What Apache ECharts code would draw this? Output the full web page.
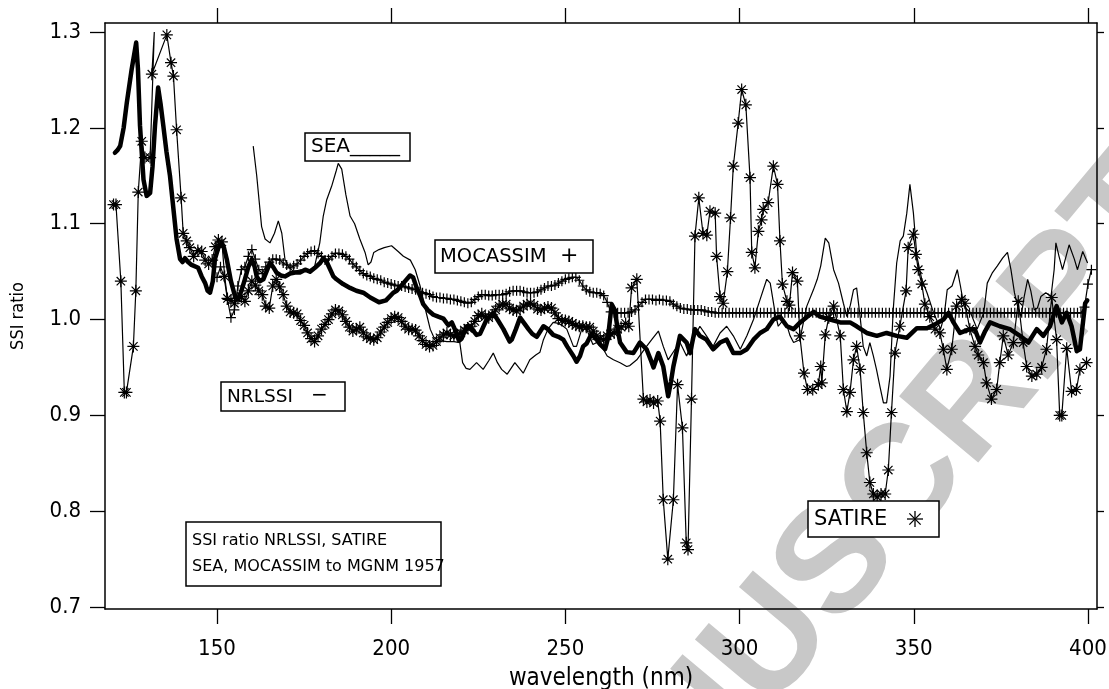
<!DOCTYPE html>
<html>
<head>
<meta charset="utf-8">
<script src="https://cdn.jsdelivr.net/npm/echarts@6/dist/echarts.min.js"></script>
<style>
  html, body { margin: 0; padding: 0; background: #fff; }
  #chart { width: 1109px; height: 689px; }
</style>
</head>
<body>
<div id="chart"></div>
<script>
// Axis ticks
const xTicks = [150, 200, 250, 300, 350, 400];
const yTicks = [0.7, 0.8, 0.9, 1.0, 1.1, 1.2, 1.3];

// NRLSSI ratio, [wavelength nm, ratio]
const nrlssi = [
  [120.7,1.174],[121.5,1.177],[122.2,1.181],[123.2,1.200],[124.1,1.226],[125.5,1.261],[126.8,1.289],[127.3,1.262],
  [127.9,1.202],[128.9,1.146],[129.8,1.129],[130.8,1.132],[131.5,1.160],[132.2,1.202],[133.1,1.242],[133.8,1.225],
  [134.6,1.202],[135.5,1.175],[136.5,1.150],[137.5,1.115],[138.4,1.084],[139.4,1.063],[140.1,1.060],[140.8,1.064],
  [141.7,1.060],[142.7,1.057],[144.6,1.054],[145.6,1.045],[146.6,1.038],[147.3,1.030],[148.0,1.028],[148.8,1.040],
  [149.4,1.063],[150.4,1.075],[151.3,1.080],[152.0,1.075],[152.8,1.063],[154.0,1.040],[155.2,1.024],[156.1,1.021],
  [157.0,1.030],[158.0,1.042],[159.0,1.055],[160.0,1.063],[160.8,1.055],[161.4,1.045],[162.3,1.040],[163.3,1.042],
  [164.2,1.050],[165.2,1.059],[166.1,1.055],[167.1,1.049],[168.3,1.046],[169.5,1.045],[171.0,1.048],[172.4,1.049],
  [173.8,1.049],[175.3,1.052],[176.7,1.050],[178.1,1.054],[179.6,1.059],[180.5,1.064],[181.5,1.060],[183.4,1.045],
  [184.3,1.042],[186.2,1.037],[188.2,1.033],[190.0,1.030],[192.0,1.028],[194.0,1.023],[196.5,1.018],[198.5,1.020],
  [200.6,1.028],[201.6,1.030],[203.5,1.038],[205.4,1.046],[206.3,1.044],[207.3,1.033],[208.3,1.025],[209.2,1.016],
  [210.5,1.010],[212.1,1.005],[213.5,1.003],[215.0,1.001],[216.4,0.994],[217.4,0.997],[218.5,0.988],[219.5,0.978],
  [220.2,0.980],[221.7,0.993],[222.6,0.993],[224.5,0.984],[225.5,0.985],[227.4,1.000],[229.3,1.007],[230.5,1.000],
  [232.2,0.990],[234.0,0.977],[234.6,0.979],[235.8,0.990],[237.0,1.002],[238.2,0.996],[239.4,0.990],[240.5,0.985],
  [241.8,0.982],[243.7,0.993],[245.0,0.990],[246.5,0.984],[248.0,0.982],[249.4,0.979],[250.5,0.972],[252.3,0.962],
  [253.2,0.956],[254.2,0.962],[255.1,0.972],[256.1,0.975],[257.5,0.985],[259.0,0.979],[260.0,0.974],[261.4,0.969],
  [262.2,0.980],[263.3,1.016],[264.2,1.010],[265.0,0.990],[265.7,0.976],[267.6,0.966],[269.5,0.965],[271.4,0.976],
  [273.3,0.969],[274.5,0.958],[275.3,0.950],[276.7,0.965],[278.1,0.951],[279.5,0.920],[280.3,0.935],[281.0,0.951],
  [282.9,0.983],[284.8,0.976],[285.8,0.965],[287.2,0.990],[288.6,0.983],[290.5,0.979],[292.4,0.969],[294.4,0.976],
  [296.3,0.979],[298.2,0.965],[300.2,0.965],[302.1,0.969],[304.0,0.979],[305.9,0.986],[307.8,0.990],[309.7,1.000],
  [311.6,1.003],[313.6,0.993],[315.5,0.990],[317.4,0.997],[319.4,1.003],[321.3,1.008],[323.1,1.003],[326.0,1.000],
  [328.9,0.997],[331.7,0.997],[333.6,0.993],[336.5,0.986],[339.4,0.983],[342.2,0.986],[345.1,0.983],[348.0,0.981],
  [350.9,0.991],[353.8,0.991],[356.1,0.995],[358.5,1.000],[360.0,1.007],[361.4,0.997],[363.3,0.986],[366.1,0.990],
  [367.5,0.990],[369.0,0.976],[370.5,0.988],[371.9,0.997],[374.7,0.993],[377.6,0.990],[380.5,0.983],[382.9,0.976],
  [385.3,0.990],[387.2,0.983],[389.1,0.993],[391.0,1.014],[392.5,0.997],[393.9,1.007],[395.3,0.993],[396.8,0.967],
  [397.7,0.969],[399.2,1.017],[399.8,1.020]
];

// SATIRE ratio: short-wavelength part, [wavelength nm, ratio]
const satireHead = [
  [120.3,1.120],[121.0,1.120],[122.4,1.040],[123.4,0.924],[124.0,0.924],[126.0,0.972],[126.7,1.030],[127.4,1.133],
  [128.4,1.186],[129.3,1.169],[130.8,1.169],[132.0,1.300],[131.3,1.256],[135.6,1.297],[136.8,1.268],[137.5,1.254],
  [138.4,1.198],[139.7,1.127],[140.3,1.090],[141.3,1.082],[142.2,1.075],[143.3,1.066],[144.5,1.072],[145.6,1.071],
  [146.6,1.062],[147.6,1.058],[148.6,1.062],[149.5,1.076],[150.4,1.083],[151.4,1.081],[152.2,1.045]
];
// points of the SATIRE trace drawn as line only (no marker)
const satireLineOnly = [132.0];
// SATIRE ratio on a 1 nm grid, 153 to 265 nm
const satireBandStart = 153;
const satireBand = [
  1.022,1.020,1.017,1.022,1.024,1.019,1.030,1.040,1.036,1.030,
  1.026,1.014,1.012,1.035,1.042,1.034,1.026,1.014,1.008,1.007,
  1.006,0.999,0.994,0.986,0.980,0.977,0.983,0.990,0.995,1.000,
  1.006,1.010,1.009,1.005,0.998,0.992,0.988,0.990,0.992,0.986,
  0.982,0.980,0.979,0.981,0.987,0.992,0.997,1.001,1.003,1.002,
  0.998,0.993,0.990,0.990,0.989,0.983,0.978,0.974,0.972,0.973,
  0.977,0.981,0.984,0.986,0.984,0.983,0.984,0.986,0.989,0.991,
  0.993,0.998,1.004,1.006,1.003,1.002,1.005,1.010,1.014,1.016,
  1.016,1.012,1.010,1.009,1.011,1.014,1.016,1.017,1.015,1.011,
  1.010,1.012,1.013,1.012,1.007,1.001,0.999,0.999,0.998,0.996,
  0.994,0.993,0.993,0.992,0.992,0.988,0.983,0.980,0.979,0.983,
  0.985,0.986,0.990
];
// SATIRE ratio: long-wavelength part
const satireTailWl = [
  266.0,267.3,268.2,269.0,270.5,272.4,273.4,274.3,275.3,276.5,277.2,278.1,279.4,281.0,282.2,283.6,284.7,285.2,286.2,287.2,
  288.3,289.5,290.6,291.5,293.0,293.4,294.4,295.3,296.5,297.4,298.2,299.6,300.6,301.8,303.0,303.5,304.4,305.4,306.3,306.8,
  308.2,309.7,310.9,311.6,312.3,313.6,314.3,315.2,316.6,317.3,318.5,319.5,321.0,322.6,323.3,323.6,324.6,325.6,327.0,328.9,
  329.8,330.8,331.7,332.7,333.6,334.6,335.5,336.5,337.4,338.4,339.5,340.6,341.8,342.7,343.6,344.6,346.0,347.8,348.4,349.9,
  350.6,351.3,352.3,353.2,354.6,356.1,357.5,358.5,359.5,360.9,362.3,363.7,364.7,366.1,367.6,368.5,370.0,370.9,372.3,373.8,
  374.7,375.7,377.1,378.6,380.0,381.4,382.4,383.9,385.3,386.7,388.1,389.6,391.0,391.9,392.5,393.9,395.3,396.7,397.7,399.6
];
const satireTailVal = [
  0.992,0.996,0.993,1.033,1.042,0.917,0.914,0.916,0.913,0.915,0.894,0.812,0.750,0.812,0.932,0.887,0.767,0.760,0.917,1.087,
  1.127,1.090,1.088,1.113,1.111,1.066,1.024,1.017,1.050,1.106,1.160,1.205,1.240,1.224,1.148,1.070,1.054,1.092,1.104,1.115,
  1.122,1.160,1.141,1.082,1.037,1.019,1.015,1.049,1.040,0.983,0.944,0.927,0.927,0.932,0.951,0.934,0.984,1.002,1.014,0.983,
  0.927,0.904,0.924,0.958,0.972,0.948,0.903,0.861,0.830,0.818,0.815,0.818,0.818,0.843,0.903,0.965,0.993,1.030,1.075,1.089,
  1.068,1.052,1.037,1.016,1.003,0.990,0.986,0.969,0.948,0.969,1.014,1.021,1.017,0.990,0.972,0.963,0.955,0.934,0.917,0.927,
  0.955,0.983,0.963,0.976,1.019,0.976,0.951,0.941,0.943,0.950,0.969,1.023,0.979,0.900,0.900,0.970,0.925,0.927,0.948,0.955
];

// SEA ratio, [wavelength nm, ratio]
const sea = [
  [160.4,1.181],[161.4,1.150],[162.8,1.097],[163.8,1.084],[165.2,1.080],[166.5,1.090],[167.6,1.103],[168.6,1.090],
  [169.5,1.063],[170.5,1.055],[172.0,1.050],[174.0,1.052],[176.0,1.050],[178.0,1.055],[179.5,1.080],[180.5,1.108],
  [181.5,1.125],[182.9,1.139],[184.2,1.155],[184.8,1.163],[185.8,1.157],[187.0,1.130],[188.2,1.108],[189.5,1.100],
  [191.0,1.084],[192.5,1.070],[193.4,1.057],[194.2,1.060],[195.0,1.070],[196.5,1.073],[198.0,1.075],[200.1,1.077],
  [202.0,1.071],[203.5,1.066],[205.5,1.062],[206.9,1.052],[208.3,1.035],[209.2,1.020],[210.2,1.005],[211.2,0.990],
  [212.3,0.981],[214.0,0.978],[216.0,0.977],[218.0,0.977],[219.7,0.976],[220.5,0.955],[221.5,0.949],[222.6,0.948],
  [224.5,0.955],[226.4,0.948],[228.0,0.957],[229.3,0.965],[230.5,0.955],[231.7,0.948],[233.3,0.943],[235.5,0.955],
  [237.9,0.944],[239.8,0.958],[241.5,0.963],[242.7,0.966],[243.7,0.979],[245.0,0.990],[246.5,0.997],[248.0,0.996],
  [249.4,0.993],[250.4,0.990],[252.3,0.972],[253.2,0.972],[254.7,0.990],[256.1,0.990],[257.9,0.974],[259.0,0.976],
  [260.9,0.969],[262.0,0.962],[263.8,0.958],[265.7,0.955],[267.6,0.951],[268.5,0.952],[270.5,0.958],[273.3,0.972],
  [275.0,0.980],[276.7,0.988],[278.1,0.972],[279.5,0.958],[281.5,0.969],[282.9,0.976],[284.8,0.962],[286.7,0.979],
  [288.6,0.993],[290.5,0.983],[292.4,0.972],[294.4,0.986],[296.3,0.993],[298.2,0.983],[300.2,0.969],[302.1,0.983],
  [304.0,1.000],[305.9,1.021],[307.8,1.042],[308.8,1.038],[310.2,1.007],[311.1,0.993],[312.6,1.000],[313.5,0.995],
  [314.5,0.983],[315.5,0.976],[317.3,0.979],[319.3,1.014],[321.2,1.031],[322.3,1.042],[323.3,1.056],[324.6,1.085],
  [325.6,1.080],[327.0,1.052],[328.4,1.038],[329.8,1.017],[330.8,1.003],[331.8,1.015],[332.7,1.031],[333.6,1.033],
  [334.6,1.003],[335.5,0.972],[336.5,0.962],[337.4,0.976],[338.4,0.962],[339.3,0.948],[340.3,0.930],[341.3,0.913],
  [342.2,0.913],[343.2,0.941],[344.1,1.010],[345.1,1.059],[346.1,1.082],[347.0,1.087],[348.0,1.111],[348.9,1.141],
  [349.9,1.111],[350.9,1.066],[352.3,1.042],[353.8,1.028],[355.7,1.007],[357.7,0.990],[358.7,1.003],[359.6,1.031],
  [361.0,1.035],[362.5,1.052],[363.4,1.035],[364.4,1.014],[366.3,1.007],[368.2,0.990],[370.1,1.007],[371.1,1.038],
  [372.6,1.049],[374.0,1.056],[375.5,1.064],[376.9,1.070],[377.9,1.052],[378.9,1.028],[379.8,1.014],[380.8,1.003],
  [381.7,1.024],[382.7,1.042],[383.6,1.030],[384.6,1.010],[385.5,1.012],[386.5,1.024],[387.9,1.028],[389.4,1.024],
  [390.3,1.052],[390.8,1.080],[391.7,1.066],[392.7,1.052],[394.6,1.078],[396.1,1.063],[397.0,1.052],[398.5,1.071],
  [399.9,1.059]
];

// MOCASSIM ratio on a 1 nm grid, 150 to 401 nm
const mocassimStart = 150;
const mocassim = [
  1.044,1.055,1.045,1.021,1.002,1.010,1.035,1.052,1.055,1.066,
  1.073,1.063,1.052,1.048,1.055,1.060,1.063,1.063,1.062,1.059,
  1.057,1.054,1.056,1.058,1.062,1.066,1.069,1.071,1.072,1.069,
  1.066,1.062,1.063,1.066,1.069,1.069,1.068,1.066,1.063,1.058,
  1.055,1.051,1.048,1.046,1.045,1.043,1.042,1.041,1.039,1.038,
  1.037,1.036,1.035,1.035,1.034,1.033,1.032,1.031,1.029,1.028,
  1.027,1.026,1.024,1.023,1.023,1.022,1.022,1.021,1.021,1.020,
  1.019,1.018,1.017,1.018,1.021,1.024,1.026,1.026,1.025,1.025,
  1.026,1.026,1.026,1.027,1.029,1.030,1.030,1.030,1.029,1.028,
  1.028,1.028,1.029,1.031,1.033,1.035,1.035,1.036,1.038,1.040,
  1.042,1.043,1.044,1.044,1.041,1.035,1.031,1.029,1.028,1.028,
  1.027,1.025,1.018,1.008,1.007,1.007,1.007,1.007,1.007,1.008,
  1.010,1.014,1.018,1.021,1.021,1.021,1.020,1.021,1.020,1.020,
  1.019,1.016,1.014,1.012,1.011,1.011,1.010,1.010,1.010,1.010,
  1.009,1.008,1.008,1.007,1.007,1.007,1.007,1.007,1.007,1.007,
  1.007,1.007,1.007,1.007,1.007,1.007,1.007,1.007,1.007,1.007,
  1.007,1.007,1.007,1.007,1.007,1.007,1.007,1.007,1.007,1.007,
  1.007,1.007,1.007,1.007,1.007,1.007,1.007,1.007,1.007,1.007,
  1.007,1.007,1.007,1.007,1.007,1.007,1.007,1.007,1.007,1.007,
  1.007,1.007,1.007,1.007,1.007,1.007,1.007,1.007,1.007,1.007,
  1.007,1.007,1.007,1.007,1.007,1.007,1.007,1.007,1.007,1.007,
  1.007,1.007,1.007,1.007,1.007,1.007,1.007,1.007,1.007,1.007,
  1.007,1.007,1.007,1.007,1.007,1.007,1.007,1.007,1.007,1.007,
  1.007,1.007,1.007,1.007,1.007,1.007,1.007,1.007,1.007,1.007,
  1.007,1.007,1.007,1.007,1.007,1.007,1.007,1.007,1.007,1.013,
  1.037,1.052
];

// ---- build series data ----
const satireData = [];
satireHead.forEach(p => {
  const item = { value: p };
  if (satireLineOnly.includes(p[0])) item.symbol = 'none';
  satireData.push(item);
});
satireBand.forEach((v, i) => satireData.push({ value: [satireBandStart + i, v] }));
satireTailWl.forEach((w, i) => satireData.push({ value: [w, satireTailVal[i]] }));

const mocassimData = mocassim.map((v, i) => [mocassimStart + i, v]);

const asteriskSymbol = 'path://M0,5L10,5M5,0L5,10M1.5,1.5L8.5,8.5M8.5,1.5L1.5,8.5';
const plusSymbol = 'path://M0,5L10,5M5,0L5,10';

const axisFont = "'Liberation Sans Narrow', 'DejaVu Sans Condensed', 'Liberation Sans', sans-serif";
const boxFont = "'DejaVu Sans', sans-serif";

const X_MIN = 117.85, X_MAX = 402.6;
const Y_MIN = 0.698, Y_MAX = 1.3094;

const lineAxis = { show: true, onZero: false, lineStyle: { color: '#000', width: 1.5 } };

// boxed labels drawn on the plot
function boxedLabel(x, y, w, h, extra) {
  return [
    { type: 'rect', z: 20, shape: { x: x, y: y, width: w, height: h },
      style: { fill: '#fff', stroke: '#000', lineWidth: 1.5 } }
  ].concat(extra);
}
function label(x, y, text, size) {
  return { type: 'text', z: 21, x: x, y: y,
    style: { text: text, font: size + 'px ' + boxFont, fill: '#000',
             textAlign: 'left', textVerticalAlign: 'middle' } };
}
function asteriskMark(cx, cy, r) {
  const d = r * 0.7071;
  const segs = [[-r,0,r,0],[0,-r,0,r],[-d,-d,d,d],[d,-d,-d,d]];
  return segs.map(s => ({ type: 'line', z: 21,
    shape: { x1: cx + s[0], y1: cy + s[1], x2: cx + s[2], y2: cy + s[3] },
    style: { stroke: '#000', lineWidth: 1.3 } }));
}

const graphics = [].concat(
  // watermark
  [{ type: 'text', z: 1, x: 517, y: 948, rotation: 0.873, silent: true,
     style: { text: 'MANUSCRIPT', font: "bold 150px 'Liberation Sans', sans-serif",
              fill: '#c8c8c8', textAlign: 'left', textVerticalAlign: 'middle' } }],
  boxedLabel(305, 133, 105, 28, [label(311, 147, 'SEA_____', 20)]),
  boxedLabel(435, 240, 158, 33, [label(440, 257, 'MOCASSIM', 19.5), label(560, 256, '+', 22)]),
  boxedLabel(221, 382, 124, 29, [label(227, 397, 'NRLSSI', 18.5), label(311, 396, '\u2212', 20)]),
  boxedLabel(808, 501, 131, 36, [label(814, 520, 'SATIRE', 21)].concat(asteriskMark(915, 519, 8))),
  boxedLabel(186, 522, 255, 64, [label(192, 541, 'SSI ratio NRLSSI, SATIRE', 16),
                                 label(192, 567, 'SEA, MOCASSIM to MGNM 1957', 16)])
);

const chart = echarts.init(document.getElementById('chart'), null, { renderer: 'canvas' });
chart.setOption({
  animation: false,
  backgroundColor: '#fff',
  grid: { left: 105, right: 12, top: 23, bottom: 80, containLabel: false, outerBoundsMode: 'none' },
  xAxis: [
    { type: 'value', min: X_MIN, max: X_MAX, position: 'bottom', z: 3,
      name: 'wavelength (nm)', nameLocation: 'middle', nameGap: 58,
      nameTextStyle: { fontFamily: axisFont, fontSize: 24, color: '#000' },
      axisLine: lineAxis,
      axisTick: { show: true, inside: false, length: 15, customValues: xTicks, lineStyle: { color: '#000', width: 1.3 } },
      axisLabel: { show: true, customValues: xTicks, margin: 29, fontFamily: axisFont, fontSize: 22, color: '#000' },
      splitLine: { show: false } },
    { type: 'value', min: X_MIN, max: X_MAX, position: 'top', z: 3,
      axisLine: lineAxis,
      axisTick: { show: true, inside: false, length: 15, customValues: xTicks, lineStyle: { color: '#000', width: 1.3 } },
      axisLabel: { show: false }, splitLine: { show: false } }
  ],
  yAxis: [
    { type: 'value', min: Y_MIN, max: Y_MAX, position: 'left', z: 3,
      name: 'SSI ratio', nameLocation: 'middle', nameGap: 78, nameRotate: 90,
      nameTextStyle: { fontFamily: axisFont, fontSize: 18, color: '#000' },
      axisLine: lineAxis,
      axisTick: { show: true, inside: false, length: 15, customValues: yTicks, lineStyle: { color: '#000', width: 1.3 } },
      axisLabel: { show: true, customValues: yTicks, margin: 24, fontFamily: axisFont, fontSize: 22, color: '#000',
                   formatter: v => v.toFixed(1) },
      splitLine: { show: false } },
    { type: 'value', min: Y_MIN, max: Y_MAX, position: 'right', z: 3,
      axisLine: lineAxis,
      axisTick: { show: true, inside: false, length: 7, customValues: yTicks, lineStyle: { color: '#000', width: 1.3 } },
      axisLabel: { show: false }, splitLine: { show: false } }
  ],
  series: [
    { name: 'SEA', type: 'line', z: 4, data: sea, showSymbol: false, symbol: 'none', clip: true, silent: true,
      lineStyle: { color: '#000', width: 1.2 } },
    { name: 'MOCASSIM', type: 'line', z: 5, data: mocassimData, clip: true, silent: true,
      symbol: plusSymbol, symbolSize: 10,
      itemStyle: { color: '#000', borderColor: '#000', borderWidth: 1.2 },
      lineStyle: { color: '#000', width: 1.2 } },
    { name: 'SATIRE', type: 'line', z: 6, data: satireData, clip: true, silent: true,
      symbol: asteriskSymbol, symbolSize: 12,
      itemStyle: { color: '#000', borderColor: '#000', borderWidth: 1.2 },
      lineStyle: { color: '#000', width: 1.2 } },
    { name: 'NRLSSI', type: 'line', z: 7, data: nrlssi, showSymbol: false, symbol: 'none', clip: true, silent: true,
      lineStyle: { color: '#000', width: 4.5, join: 'round', cap: 'round' } }
  ],
  graphic: { elements: graphics }
});
</script>
</body>
</html>
